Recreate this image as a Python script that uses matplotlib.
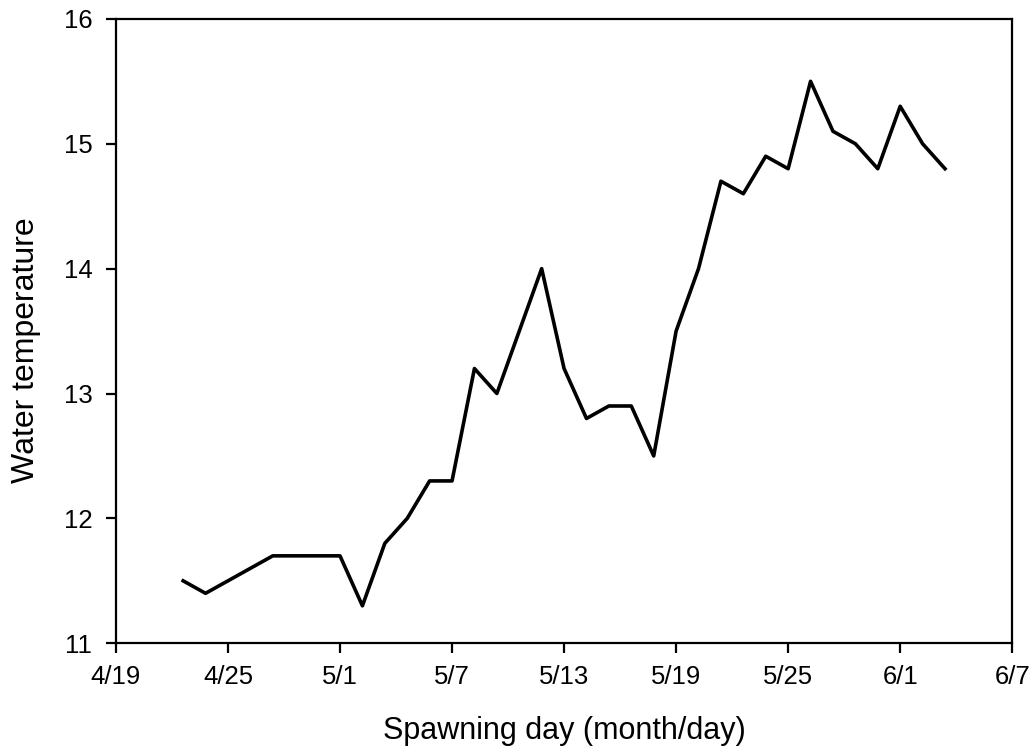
import matplotlib.pyplot as plt

plt.rcParams['font.family'] = ['Liberation Sans', 'DejaVu Sans']

# spawning day index and water temperature on that day
day_index = list(range(3, 38))
water_temp = [11.5, 11.4, 11.5, 11.6, 11.7, 11.7, 11.7, 11.7, 11.3, 11.8,
              12.0, 12.3, 12.3, 13.2, 13.0, 13.5, 14.0, 13.2, 12.8, 12.9,
              12.9, 12.5, 13.5, 14.0, 14.7, 14.6, 14.9, 14.8, 15.5, 15.1,
              15.0, 14.8, 15.3, 15.0, 14.8]

tick_pos = [0, 5, 10, 15, 20, 25, 30, 35, 40]
tick_labels = ['4/19', '4/25', '5/1', '5/7', '5/13', '5/19', '5/25', '6/1', '6/7']
y_ticks = [11, 12, 13, 14, 15, 16]

fig = plt.figure(figsize=(10.35, 7.55), dpi=100)
ax = fig.add_axes([0.112, 0.148, 0.866, 0.827])

ax.plot(day_index, water_temp, color='black', linewidth=2.6)

ax.set_xlim(0, 40)
ax.set_ylim(11, 16)
ax.set_xticks(tick_pos)
ax.set_xticklabels(tick_labels)
ax.set_yticks(y_ticks)

ax.tick_params(direction='out', length=7, width=1.6, labelsize=18.5, pad=9)
ax.tick_params(axis='y', pad=10)
for s in ax.spines.values():
    s.set_linewidth(1.6)

ax.set_xlabel('Spawning day (month/day)', fontsize=22, labelpad=19)
ax.set_ylabel('Water temperature', fontsize=23)
ax.yaxis.set_label_coords(-0.084, 0.47)

fig.savefig('out.png', dpi=100)
